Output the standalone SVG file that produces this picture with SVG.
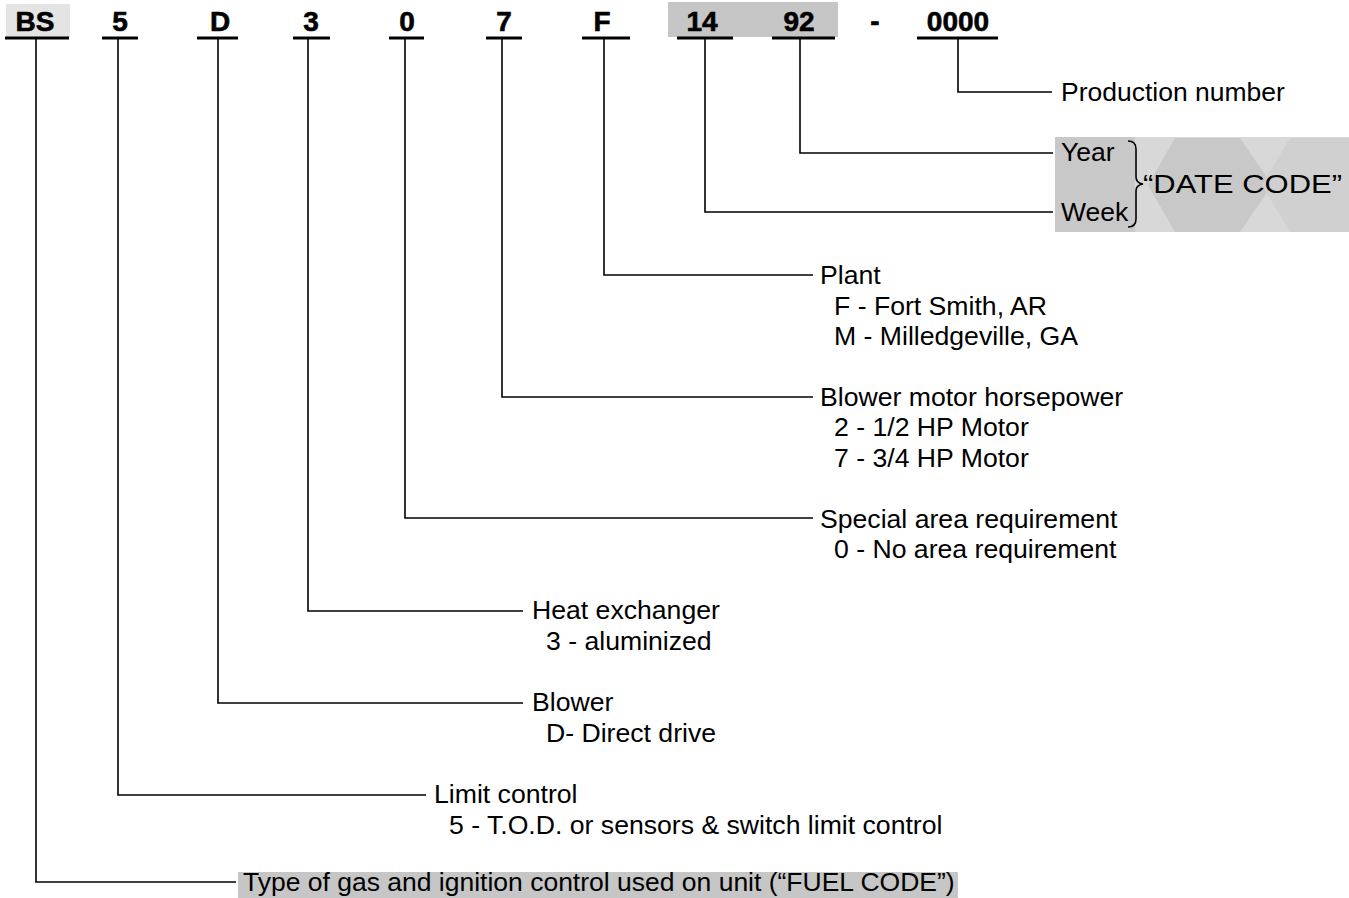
<svg xmlns="http://www.w3.org/2000/svg" width="1349" height="898" viewBox="0 0 1349 898">
<style>
  .code { font-family: "Liberation Sans", Arial, sans-serif; font-weight: bold; font-size: 28px; fill: #000; stroke: #000; stroke-width: 0.6; text-anchor: middle; }
  .lbl { font-family: "Liberation Sans", Arial, sans-serif; font-size: 25px; fill: #000; }
  .ul { stroke: #000; stroke-width: 3; fill: none; }
  .conn { stroke: #000; stroke-width: 1.6; fill: none; }
  .shade { fill: #c6c6c6; }
</style>
<rect width="1349" height="898" fill="#fff"/>

<!-- background shading -->
<g id="shading">
  <rect x="6" y="4" width="64" height="33" fill="#e4e4e4"/>
  <rect x="668" y="2" width="170" height="35" class="shade"/>
  <rect x="1055" y="137" width="294" height="95" fill="#d8d8d8"/>
  <rect x="1055" y="137" width="80" height="95" fill="#c8c8c8"/>
  <polygon points="1175,138 1240,138 1272,185 1240,232 1175,232 1148,185" fill="#c8c8c8"/>
  <polygon points="1290,138 1349,138 1349,232 1290,232 1262,185" fill="#d0d0d0"/>
  <rect x="238" y="872" width="720" height="26" class="shade"/>
</g>

<!-- code characters -->
<g id="code-BS"><text class="code" x="35" y="31">BS</text><line class="ul" x1="5" y1="38" x2="69" y2="38"/></g>
<g id="code-5"><text class="code" x="120" y="31">5</text><line class="ul" x1="102" y1="38" x2="138" y2="38"/></g>
<g id="code-D"><text class="code" x="220" y="31">D</text><line class="ul" x1="197" y1="38" x2="238" y2="38"/></g>
<g id="code-3"><text class="code" x="311" y="31">3</text><line class="ul" x1="293" y1="38" x2="330" y2="38"/></g>
<g id="code-0"><text class="code" x="407" y="31">0</text><line class="ul" x1="389" y1="38" x2="424" y2="38"/></g>
<g id="code-7"><text class="code" x="504" y="31">7</text><line class="ul" x1="486" y1="38" x2="522" y2="38"/></g>
<g id="code-F"><text class="code" x="602" y="31">F</text><line class="ul" x1="582" y1="38" x2="630" y2="38"/></g>
<g id="code-14"><text class="code" x="702" y="31">14</text><line class="ul" x1="677" y1="38" x2="733" y2="38"/></g>
<g id="code-92"><text class="code" x="799" y="31">92</text><line class="ul" x1="772" y1="38" x2="835" y2="38"/></g>
<g id="code-dash"><text class="code" x="875" y="31">-</text></g>
<g id="code-0000"><text class="code" x="958" y="31">0000</text><line class="ul" x1="917" y1="38" x2="998" y2="38"/></g>

<!-- connectors -->
<g id="connectors">
  <path class="conn" d="M36 39 V882 H236"/>
  <path class="conn" d="M118 39 V795 H426"/>
  <path class="conn" d="M218 39 V703 H523"/>
  <path class="conn" d="M308 39 V611 H523"/>
  <path class="conn" d="M405 39 V518 H813"/>
  <path class="conn" d="M502 39 V397 H813"/>
  <path class="conn" d="M604 39 V275 H813"/>
  <path class="conn" d="M705 39 V212 H1053"/>
  <path class="conn" d="M800 39 V153 H1053"/>
  <path class="conn" d="M958 39 V92 H1052"/>
  <path class="conn" d="M1128 141 Q1136 141 1136 149 V177 Q1136 183 1143 184 Q1136 185 1136 191 V219 Q1136 227 1128 227"/>
</g>

<!-- descriptions -->
<g id="prod-number"><text class="lbl" transform="translate(1061 101) scale(1.06 1)">Production number</text></g>
<g id="date-code">
  <text class="lbl" transform="translate(1061 161) scale(1.06 1)">Year</text>
  <text class="lbl" transform="translate(1061 221) scale(1.06 1)">Week</text>
  <text class="lbl" x="1143" y="193" textLength="199" lengthAdjust="spacingAndGlyphs">“DATE CODE”</text>
</g>
<g id="plant">
  <text class="lbl" transform="translate(820 284) scale(1.065 1)">Plant</text>
  <text class="lbl" transform="translate(834 315) scale(1.065 1)">F - Fort Smith, AR</text>
  <text class="lbl" transform="translate(834 345) scale(1.065 1)">M - Milledgeville, GA</text>
</g>
<g id="blower-motor">
  <text class="lbl" transform="translate(820 406) scale(1.065 1)">Blower motor horsepower</text>
  <text class="lbl" transform="translate(834 436) scale(1.065 1)">2 - 1/2 HP Motor</text>
  <text class="lbl" transform="translate(834 467) scale(1.065 1)">7 - 3/4 HP Motor</text>
</g>
<g id="special-area">
  <text class="lbl" transform="translate(820 528) scale(1.065 1)">Special area requirement</text>
  <text class="lbl" transform="translate(834 558) scale(1.065 1)">0 - No area requirement</text>
</g>
<g id="heat-exchanger">
  <text class="lbl" transform="translate(532 619) scale(1.065 1)">Heat exchanger</text>
  <text class="lbl" transform="translate(546 650) scale(1.065 1)">3 - aluminized</text>
</g>
<g id="blower">
  <text class="lbl" transform="translate(532 711) scale(1.065 1)">Blower</text>
  <text class="lbl" transform="translate(546 742) scale(1.065 1)">D- Direct drive</text>
</g>
<g id="limit-control">
  <text class="lbl" transform="translate(434 803) scale(1.065 1)">Limit control</text>
  <text class="lbl" transform="translate(449 834) scale(1.065 1)">5 - T.O.D. or sensors &amp; switch limit control</text>
</g>
<g id="fuel-code">
  <text class="lbl" transform="translate(243 891) scale(1.06 1)">Type of gas and ignition control used on unit (“FUEL CODE”)</text>
</g>
</svg>
